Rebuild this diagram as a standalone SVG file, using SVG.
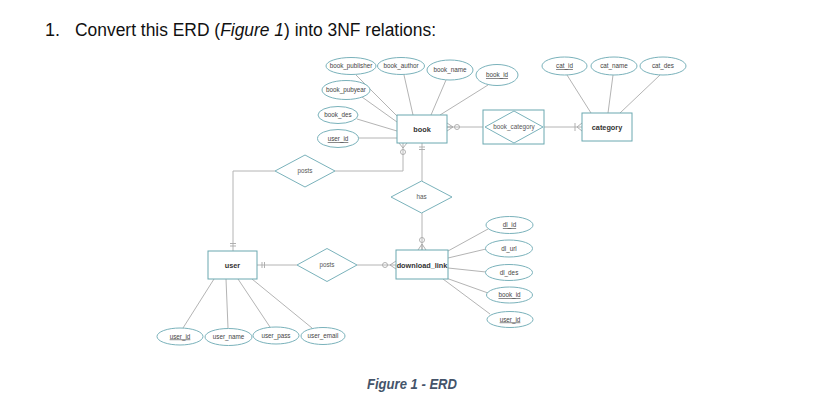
<svg xmlns="http://www.w3.org/2000/svg" width="839" height="403" viewBox="0 0 839 403">
<style>
.ent{fill:#fff;stroke:#6aa8b0;stroke-width:1}
.att{fill:#fff;stroke:#7ab2bb;stroke-width:1}
.rel{fill:#fff;stroke:#7ab2bb;stroke-width:1}
.ln{fill:none;stroke:#b4b4b4;stroke-width:1}
.mk{fill:none;stroke:#a8a8a8;stroke-width:0.9}
.at{font-family:"Liberation Sans",Arial,sans-serif;font-size:6.3px;fill:#444;text-anchor:middle}
.key{text-decoration:underline}
.et{font-family:"Liberation Sans",Arial,sans-serif;font-size:7.3px;font-weight:bold;fill:#333;text-anchor:middle}
.rt{font-family:"Liberation Sans",Arial,sans-serif;font-size:6.3px;fill:#555;text-anchor:middle}
</style>
<rect width="839" height="403" fill="#fff"/>
<text x="45" y="36" font-family="'Liberation Sans',Arial,sans-serif" font-size="18" fill="#111">1.</text>
<text x="75" y="36" font-family="'Liberation Sans',Arial,sans-serif" font-size="18" fill="#111" textLength="361" lengthAdjust="spacingAndGlyphs">Convert this ERD (<tspan font-style="italic">Figure 1</tspan>) into 3NF relations:</text>

<g id="connectors">
<!-- book attributes -->
<line class="ln" x1="356" y1="75" x2="400" y2="119"/>
<line class="ln" x1="404" y1="75" x2="413" y2="115"/>
<line class="ln" x1="446" y1="80" x2="431" y2="115"/>
<line class="ln" x1="488" y1="85" x2="440" y2="115"/>
<line class="ln" x1="362" y1="97" x2="397" y2="122"/>
<line class="ln" x1="357" y1="119" x2="397" y2="131"/>
<line class="ln" x1="358" y1="138" x2="397" y2="138"/>
<!-- category attributes -->
<line class="ln" x1="567" y1="75" x2="591" y2="113"/>
<line class="ln" x1="613" y1="75" x2="608" y2="113"/>
<line class="ln" x1="660" y1="75" x2="620" y2="113"/>
<!-- download_link attributes -->
<line class="ln" x1="448" y1="251" x2="488" y2="229"/>
<line class="ln" x1="448" y1="258" x2="486" y2="249"/>
<line class="ln" x1="448" y1="268" x2="486" y2="272"/>
<line class="ln" x1="446" y1="278" x2="488" y2="293"/>
<line class="ln" x1="443" y1="279" x2="490" y2="314"/>
<!-- user attributes -->
<line class="ln" x1="214" y1="279" x2="183" y2="328"/>
<line class="ln" x1="226" y1="279" x2="228" y2="328"/>
<line class="ln" x1="238" y1="279" x2="270" y2="327"/>
<line class="ln" x1="252" y1="279" x2="312" y2="328"/>
<!-- book - book_category -->
<line class="ln" x1="447" y1="127" x2="483" y2="127"/>
<path class="mk" d="M447,123 L453,127 L447,131 M447,127 L453,127"/>
<circle class="mk" cx="457" cy="127" r="2.5" fill="#fff"/>
<!-- book_category - category -->
<line class="ln" x1="544" y1="127" x2="582" y2="127"/>
<path class="mk" d="M575,123 L575,131 M582,123 L577,127 L582,131"/>
<!-- book - has - download_link -->
<line class="ln" x1="422" y1="143" x2="422" y2="181"/>
<path class="mk" d="M419,147 L425,147 M419,149.5 L425,149.5"/>
<line class="ln" x1="422" y1="213" x2="422" y2="250"/>
<circle class="mk" cx="422" cy="240" r="2.5" fill="#fff"/>
<path class="mk" d="M418,250 L422,244 L426,250 M422,244 L422,250"/>
<!-- book - posts - user -->
<polyline class="ln" points="403,143 403,171 335,171"/>
<path class="mk" d="M399,143 L403,148 L407,143"/>
<circle class="mk" cx="403" cy="152" r="2.5" fill="#fff"/>
<polyline class="ln" points="275,171 233,171 233,251"/>
<path class="mk" d="M230,243.5 L236,243.5 M230,246 L236,246"/>
<!-- user - posts - download_link -->
<line class="ln" x1="257" y1="265" x2="297" y2="265"/>
<path class="mk" d="M262,262 L262,268 M264.5,262 L264.5,268"/>
<line class="ln" x1="357" y1="265" x2="396" y2="265"/>
<circle class="mk" cx="385" cy="265" r="2.5" fill="#fff"/>
<path class="mk" d="M396,261 L390,265 L396,269"/>
</g>

<g id="book">
<rect class="ent" x="397" y="115" width="50" height="28"/>
<text class="et" x="422" y="132">book</text>
</g>
<g id="book_publisher"><ellipse class="att" cx="351" cy="66" rx="25" ry="8.5"/><text class="at" x="351" y="68">book_publisher</text></g>
<g id="book_author"><ellipse class="att" cx="401" cy="66" rx="23.5" ry="8.5"/><text class="at" x="401" y="68">book_author</text></g>
<g id="book_name"><ellipse class="att" cx="450" cy="70" rx="23" ry="10"/><text class="at" x="450" y="72">book_name</text></g>
<g id="book_id"><ellipse class="att" cx="497" cy="75" rx="21" ry="10.5"/><text class="at key" x="497" y="77">book_id</text></g>
<g id="book_pubyear"><ellipse class="att" cx="346" cy="90" rx="24" ry="9.5"/><text class="at" x="346" y="92">book_pubyear</text></g>
<g id="book_des"><ellipse class="att" cx="338" cy="115" rx="20" ry="8.5"/><text class="at" x="338" y="117">book_des</text></g>
<g id="book_user_id"><ellipse class="att" cx="338" cy="138.5" rx="20.5" ry="9"/><text class="at key" x="338" y="141">user_id</text></g>

<g id="book_category">
<rect class="ent" x="483" y="110" width="61" height="34"/>
<polygon class="rel" points="485,127 514,111 543,127 514,143"/>
<text class="rt" x="514" y="129">book_category</text>
</g>

<g id="category">
<rect class="ent" x="582" y="113" width="50" height="28"/>
<text class="et" x="607" y="130">category</text>
</g>
<g id="cat_id"><ellipse class="att" cx="564.5" cy="66" rx="22.5" ry="9"/><text class="at key" x="564.5" y="68">cat_id</text></g>
<g id="cat_name"><ellipse class="att" cx="614" cy="66" rx="23" ry="9"/><text class="at" x="614" y="68">cat_name</text></g>
<g id="cat_des"><ellipse class="att" cx="663" cy="66" rx="23" ry="9"/><text class="at" x="663" y="68">cat_des</text></g>

<g id="posts_book">
<polygon class="rel" points="275,171 305,155 335,171 305,187"/>
<text class="rt" x="305" y="173">posts</text>
</g>

<g id="has">
<polygon class="rel" points="391,197 421.5,181 452,197 421.5,213"/>
<text class="rt" x="421.5" y="199">has</text>
</g>

<g id="download_link">
<rect class="ent" x="396" y="250" width="52" height="29"/>
<text class="et" x="422" y="267.5">download_link</text>
</g>
<g id="dl_id"><ellipse class="att" cx="509.5" cy="225" rx="23.5" ry="8.5"/><text class="at key" x="509.5" y="227">dl_id</text></g>
<g id="dl_url"><ellipse class="att" cx="509" cy="248.5" rx="23.5" ry="8.5"/><text class="at" x="509" y="250.5">dl_url</text></g>
<g id="dl_des"><ellipse class="att" cx="509" cy="272.5" rx="23.5" ry="8"/><text class="at" x="509" y="274.5">dl_des</text></g>
<g id="dl_book_id"><ellipse class="att" cx="509.5" cy="295" rx="23" ry="8"/><text class="at key" x="509.5" y="297">book_id</text></g>
<g id="dl_user_id"><ellipse class="att" cx="510" cy="319.5" rx="23" ry="8"/><text class="at key" x="510" y="321.5">user_id</text></g>

<g id="user">
<rect class="ent" x="208" y="251" width="49" height="28"/>
<text class="et" x="232.5" y="268">user</text>
</g>
<g id="posts_dl">
<polygon class="rel" points="297,265 327,248.5 357,265 327,281.5"/>
<text class="rt" x="327" y="267">posts</text>
</g>
<g id="user_id"><ellipse class="att" cx="180" cy="336.5" rx="23" ry="8.5"/><text class="at key" x="180" y="338.5">user_id</text></g>
<g id="user_name"><ellipse class="att" cx="228.5" cy="337" rx="23.5" ry="8.5"/><text class="at" x="228.5" y="339">user_name</text></g>
<g id="user_pass"><ellipse class="att" cx="276" cy="335.5" rx="23" ry="8.5"/><text class="at" x="276" y="337.5">user_pass</text></g>
<g id="user_email"><ellipse class="att" cx="323" cy="336" rx="22" ry="8.5"/><text class="at" x="323" y="338">user_email</text></g>

<text x="367" y="389" font-family="'Liberation Sans',Arial,sans-serif" font-size="14" font-style="italic" font-weight="bold" fill="#44546a" textLength="90" lengthAdjust="spacingAndGlyphs">Figure 1 - ERD</text>
</svg>
